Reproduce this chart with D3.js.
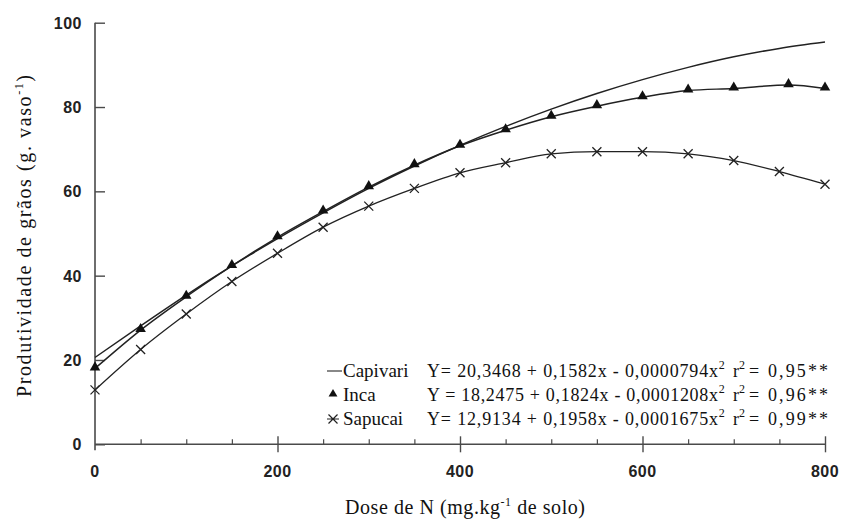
<!DOCTYPE html>
<html>
<head>
<meta charset="utf-8">
<script src="https://cdn.jsdelivr.net/npm/d3@7"></script>
<style>
  body { margin: 0; background: #fff; }
  .tick-label { font-family: "Liberation Sans", Arial, sans-serif; font-size: 16px; font-weight: bold; letter-spacing: 0.5px; fill: #222; }
  .serif { font-family: "Liberation Serif", "Times New Roman", serif; fill: #111; }
</style>
</head>
<body>
<div id="chart"></div>
<script>
// data (dose in mg/kg, yield in g/vaso)
const doses = [0, 50, 100, 150, 200, 250, 300, 350, 400, 450, 500, 550, 600, 650, 700, 750, 800];
const capivari = [20.6, 28.1, 35.4, 42.3, 48.8, 54.9, 60.7, 66.0, 70.9, 75.4, 79.5, 83.2, 86.5, 89.4, 91.9, 93.9, 95.4];
const incaDoses = [0, 50, 100, 150, 200, 250, 300, 350, 400, 450, 500, 550, 600, 650, 700, 760, 800];
const inca = [18.0, 27.1, 35.0, 42.3, 49.1, 55.2, 61.0, 66.2, 70.8, 74.5, 77.7, 80.2, 82.3, 83.9, 84.4, 85.2, 84.4];
const sapucai = [12.9, 22.5, 30.9, 38.6, 45.3, 51.5, 56.5, 60.7, 64.4, 66.8, 68.9, 69.4, 69.4, 68.9, 67.3, 64.7, 61.7];

const xTicks = [0, 200, 400, 600, 800];
const xMinor = [50, 100, 150, 250, 300, 350, 450, 500, 550, 650, 700, 750];
const yTicks = [0, 20, 40, 60, 80, 100];

const legendNames = ["Capivari", "Inca", "Sapucai"];
const legendEq = ["Y= 20,3468 + 0,1582x - 0,0000794x", "Y = 18,2475 + 0,1824x - 0,0001208x", "Y= 12,9134 + 0,1958x - 0,0001675x"];
const legendR2 = ["= 0,95**", "= 0,96**", "= 0,99**"];

const width = 846;
const height = 520;

const svg = d3.select("#chart")
  .append("svg")
  .attr("width", width)
  .attr("height", height)
  .style("display", "block");

svg.append("rect").attr("width", width).attr("height", height).attr("fill", "#fff");

// scales
const x = d3.scaleLinear().domain([0, 800]).range([95, 825]);
const y = d3.scaleLinear().domain([0, 100]).range([444.3, 22.7]);

// axes
const axisColor = "#4a4a4a";
const yAxis = svg.append("g")
  .attr("transform", `translate(${x(0)},0)`)
  .call(d3.axisRight(y).tickValues(yTicks).tickSize(10).tickFormat(""));
yAxis.select(".domain").remove();
yAxis.selectAll("line").attr("stroke", axisColor).attr("stroke-width", 1.4);
svg.append("line")
  .attr("x1", x(0)).attr("x2", x(0))
  .attr("y1", y(0) + 6).attr("y2", y(100))
  .attr("stroke", axisColor).attr("stroke-width", 1.6);

svg.append("line")
  .attr("x1", x(0)).attr("x2", x(800))
  .attr("y1", y(0)).attr("y2", y(0))
  .attr("stroke", axisColor).attr("stroke-width", 1.6);

// major x ticks cross the axis
const xAxis = svg.append("g")
  .attr("transform", `translate(0,${y(0) + 8})`)
  .call(d3.axisTop(x).tickValues(xTicks.slice(1)).tickSize(16).tickFormat(""));
xAxis.select(".domain").remove();
xAxis.selectAll("line").attr("stroke", axisColor).attr("stroke-width", 1.4);

// minor x ticks point up
const xAxisMinor = svg.append("g")
  .attr("transform", `translate(0,${y(0)})`)
  .call(d3.axisTop(x).tickValues(xMinor).tickSize(5).tickFormat(""));
xAxisMinor.select(".domain").remove();
xAxisMinor.selectAll("line").attr("stroke", axisColor).attr("stroke-width", 1.2);

// tick labels
svg.append("g").selectAll("text")
  .data(yTicks)
  .join("text")
  .attr("class", "tick-label")
  .attr("x", 82)
  .attr("y", d => y(d) + 6)
  .attr("text-anchor", "end")
  .text(d => d);

svg.append("g").selectAll("text")
  .data(xTicks)
  .join("text")
  .attr("class", "tick-label")
  .attr("x", d => x(d))
  .attr("y", 477)
  .attr("text-anchor", "middle")
  .text(d => d);

// axis titles
const xTitle = svg.append("text")
  .attr("class", "serif")
  .attr("x", 345)
  .attr("y", 514)
  .attr("textLength", 240)
  .attr("lengthAdjust", "spacing")
  .style("font-size", "20px");
xTitle.append("tspan").text("Dose de N (mg.kg");
xTitle.append("tspan").attr("dy", -8).style("font-size", "12px").text("-1");
xTitle.append("tspan").attr("dy", 8).text(" de solo)");

const yTitle = svg.append("text")
  .attr("class", "serif")
  .attr("transform", `translate(31,397) rotate(-90)`)
  .attr("textLength", 322)
  .attr("lengthAdjust", "spacing")
  .style("font-size", "20px");
yTitle.append("tspan").text("Produtividade de grãos (g. vaso");
yTitle.append("tspan").attr("dy", -8).style("font-size", "12px").text("-1");
yTitle.append("tspan").attr("dy", 8).text(")");

// lines
const lineColor = "#222";
const capLine = d3.line()
  .x((d, i) => x(doses[i]))
  .y(d => y(d))
  .curve(d3.curveMonotoneX);
const incaLine = d3.line()
  .x((d, i) => x(incaDoses[i]))
  .y(d => y(d))
  .curve(d3.curveMonotoneX);

svg.append("path")
  .datum(capivari)
  .attr("d", capLine)
  .attr("fill", "none")
  .attr("stroke", lineColor)
  .attr("stroke-width", 1.5);

svg.append("path")
  .datum(inca)
  .attr("d", incaLine)
  .attr("fill", "none")
  .attr("stroke", lineColor)
  .attr("stroke-width", 1.5);

svg.append("path")
  .datum(sapucai)
  .attr("d", capLine)
  .attr("fill", "none")
  .attr("stroke", lineColor)
  .attr("stroke-width", 1.3);

// markers
const tri = d3.symbol().type(d3.symbolTriangle).size(48);
svg.append("g").selectAll("path")
  .data(inca)
  .join("path")
  .attr("d", tri)
  .attr("transform", (d, i) => `translate(${x(incaDoses[i])},${y(d) - 1})`)
  .attr("fill", "#111");

const cross = "M-4.5,-4.5L4.5,4.5M-4.5,4.5L4.5,-4.5";
svg.append("g").selectAll("path")
  .data(sapucai)
  .join("path")
  .attr("d", cross)
  .attr("transform", (d, i) => `translate(${x(doses[i])},${y(d)})`)
  .attr("fill", "none")
  .attr("stroke", "#222")
  .attr("stroke-width", 1.3);

// legend
const rowY = [377, 401, 425];
const legend = svg.append("g");
legend.append("line")
  .attr("x1", 327).attr("x2", 342)
  .attr("y1", rowY[0] - 6).attr("y2", rowY[0] - 6)
  .attr("stroke", "#555").attr("stroke-width", 1.4);
legend.append("path")
  .attr("d", d3.symbol().type(d3.symbolTriangle).size(34))
  .attr("transform", `translate(333,${rowY[1] - 7})`)
  .attr("fill", "#111");
legend.append("path")
  .attr("d", "M-4.5,-4.5L4.5,4.5M-4.5,4.5L4.5,-4.5M-6,0L6,0")
  .attr("transform", `translate(333,${rowY[2] - 6})`)
  .attr("stroke", "#222").attr("stroke-width", 1.2);

legendNames.forEach((name, i) => {
  legend.append("text")
    .attr("class", "serif")
    .attr("x", 343)
    .attr("y", rowY[i])
    .style("font-size", "19px")
    .text(name);

  const eq = legend.append("text")
    .attr("class", "serif")
    .attr("x", 427)
    .attr("y", rowY[i])
    .style("font-size", "18px");
  eq.append("tspan").attr("textLength", 291).attr("lengthAdjust", "spacing").text(legendEq[i]);
  eq.append("tspan").attr("dy", -8).style("font-size", "12px").text("2");

  const r2 = legend.append("text")
    .attr("class", "serif")
    .attr("x", 733)
    .attr("y", rowY[i])
    .style("font-size", "18px");
  r2.append("tspan").text("r");
  r2.append("tspan").attr("dy", -8).style("font-size", "12px").text("2");

  legend.append("text")
    .attr("class", "serif")
    .attr("x", 749)
    .attr("y", rowY[i])
    .attr("textLength", 79)
    .attr("lengthAdjust", "spacing")
    .style("font-size", "18px")
    .text(legendR2[i]);
});
</script>
</body>
</html>
